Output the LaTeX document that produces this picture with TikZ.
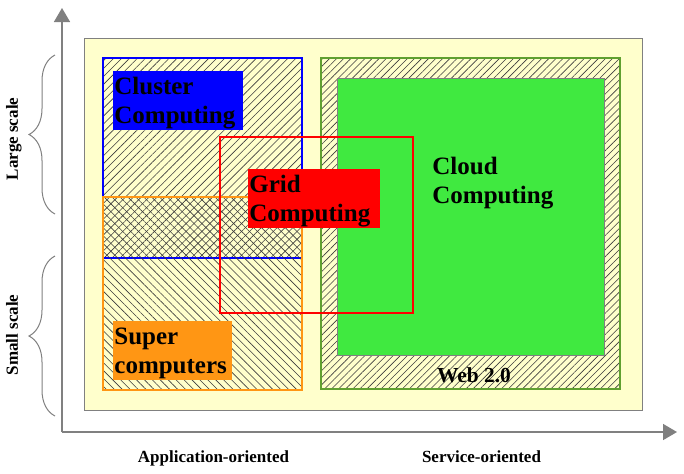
\documentclass[tikz,border=0pt]{standalone}
\usepackage{fontspec}
\setmainfont{Liberation Serif}
\usetikzlibrary{arrows.meta}
\usetikzlibrary{patterns.meta}
\usetikzlibrary{decorations.pathreplacing}
\usetikzlibrary{positioning}

\definecolor{paleYellow}{RGB}{255,255,204}
\definecolor{axisGray}{RGB}{128,128,128}
\definecolor{hatchGray}{RGB}{60,60,60}
\definecolor{clusterBlue}{RGB}{0,0,255}
\definecolor{superOrange}{RGB}{255,150,20}
\definecolor{gridRed}{RGB}{255,0,0}
\definecolor{cloudGreen}{RGB}{64,233,64}
\definecolor{webGreen}{RGB}{96,160,48}

\begin{document}
\begin{tikzpicture}[x = 0.5pt, y = -0.5pt, > = {Triangle[length = 7pt, width = 8pt]}, font = \bfseries]
\tikzset{
  region/.style = {line width = 1pt},
  hatchNE/.style = {pattern = {Lines[angle = 45, distance = 2.8pt, line width = 0.3pt]}, pattern color = hatchGray},
  hatchNW/.style = {pattern = {Lines[angle = -45, distance = 2.8pt, line width = 0.3pt]}, pattern color = hatchGray},
  hatchWeb/.style = {pattern = {Lines[angle = 45, distance = 2.5pt, line width = 0.3pt]}, pattern color = hatchGray},
  areaLabel/.style = {anchor = north west, inner xsep = 0.5pt, inner ysep = 0pt, align = left, minimum height = 29.5pt, text height = 10pt, text depth = 16pt, font = \bfseries\fontsize{12.5}{14.5}\selectfont},
  axis/.style = {draw = axisGray, line width = 0.8pt},
  axisLabel/.style = {font = \bfseries\fontsize{8.5}{10}\selectfont},
  scaleBrace/.style = {draw = axisGray, line width = 0.5pt, decorate, decoration = {brace, amplitude = 13pt}},
}
\useasboundingbox (0,0) rectangle (684,473);
% axes
\coordinate (origin) at (62,432);
\coordinate (yEnd) at (62,8);
\coordinate (xEnd) at (677,432);
\draw [axis, ->, fill = axisGray] (origin) -- (yEnd);
\draw [axis, ->, fill = axisGray] (origin) -- (xEnd);
% background
\draw [axisGray, fill = paleYellow, line width = 0.5pt] (84,38) rectangle (642,410);
% regions
\draw [region, draw = clusterBlue, hatchNE] (103,58) rectangle (302,258);
\draw [region, draw = superOrange, hatchNW] (103,197) rectangle (302,390);
\draw [region, draw = webGreen, hatchWeb] (321,58) rectangle (620,389);
\draw [axisGray, fill = cloudGreen, line width = 0.5pt] (337,78) rectangle (604,355);
\draw [region, draw = gridRed] (220,137) rectangle (413,313);
% labels
\node [areaLabel, fill = clusterBlue, text width = 64pt] (clusterComputing) at (113,71) {Cluster\\Computing};
\node [areaLabel, fill = gridRed, text width = 65pt] (gridComputing) at (248,169) {Grid\\Computing};
\node [areaLabel, fill = superOrange, text width = 58.5pt] (superComputers) at (113,321) {Super\\computers};
\node [areaLabel, text width = 70pt] (cloudComputing) at (431,150.5) {Cloud\\Computing};
\node [font = \bfseries\fontsize{10.7}{12}\selectfont, anchor = base] (webTwo) at (474,382) {Web 2.0};
% axis labels
\node [axisLabel, anchor = base] (applicationOriented) at (213.5,462) {Application-oriented};
\node [axisLabel, anchor = base] (serviceOriented) at (481.5,462) {Service-oriented};
\coordinate (largeBottom) at (55,214);
\coordinate (largeTop) at (55,55);
\coordinate (smallBottom) at (55,416);
\coordinate (smallTop) at (55,256);
\draw [scaleBrace] (largeBottom) -- (largeTop);
\draw [scaleBrace] (smallBottom) -- (smallTop);
\node [axisLabel, rotate = 90, anchor = base] (largeScale) at (18,139) {Large scale};
\node [axisLabel, rotate = 90, anchor = base] (smallScale) at (18,335) {Small scale};
\end{tikzpicture}
\end{document}
